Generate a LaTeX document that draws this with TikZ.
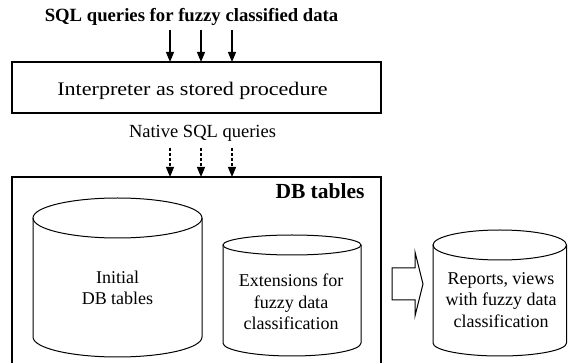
\documentclass[tikz,border=0pt]{standalone}
\usepackage{fontspec}
\setmainfont{Liberation Serif}
\newfontfamily\widefont[FakeStretch=1.15]{Liberation Serif}
\usetikzlibrary{arrows.meta}
\tikzset{
  every path/.style={line width=1pt},
  flowarr/.style={-{Triangle[length=10pt,width=8pt]}, line width=1.2pt},
  dasharr/.style={flowarr, dash pattern=on 3pt off 2pt},
  cyltext/.style={align=center, font=\fontsize{18}{21.5}\selectfont, inner sep=0pt},
  boxline/.style={line width=1.2pt},
}
\begin{document}
\begin{tikzpicture}[x=1pt,y=-1pt]
\useasboundingbox (0,0) rectangle (568,363);

% title
\node[font=\fontsize{18.7}{22}\selectfont\bfseries, inner sep=0pt] (title) at (191.5,17) {SQL queries for fuzzy classified data};

% interpreter box
\node[draw, boxline, minimum width=369pt, minimum height=51pt, inner sep=0pt] (interp) at (196.5,87.5) {};
\node[font=\widefont\fontsize{19.2}{22}\selectfont, inner sep=0pt] (interptext) at (192.5,91) {Interpreter as stored procedure};

% solid arrows
\foreach \i/\x in {1/170,2/201,3/232}{
  \coordinate (s\i) at (\x,30);
  \coordinate (e\i) at (\x,62);
  \draw[flowarr] (s\i) -- (e\i);
}

% native SQL
\node[font=\fontsize{18.5}{22}\selectfont, inner sep=0pt] (native) at (202.5,133) {Native SQL queries};

\foreach \i/\x in {1/170,2/201,3/232}{
  \coordinate (ds\i) at (\x,148);
  \coordinate (de\i) at (\x,177);
  \draw[dasharr] (ds\i) -- (de\i);
}

% DB tables box (open at bottom)
\coordinate (dbtl) at (12,177);
\coordinate (dbtr) at (381,177);
\draw[boxline] (12,363) -- (dbtl) -- (dbtr) -- (381,363);
\node[font=\fontsize{21.5}{24}\selectfont\bfseries, inner sep=0pt, anchor=east] (dbtitle) at (365,191.5) {DB tables};

% cylinder 1
\draw (33,218) -- (33,337) arc[start angle=180,end angle=360,x radius=84.5pt,y radius=20pt] -- (202,218);
\draw (117.5,218) ellipse [x radius=84.5pt, y radius=20pt];
\node[cyltext] (initial) at (117.5,288) {Initial\\ DB tables};

% cylinder 2
\draw (223,245) -- (223,343) arc[start angle=180,end angle=360,x radius=69pt,y radius=13pt] -- (361,245);
\draw (292,245) ellipse [x radius=69pt, y radius=10pt];
\node[cyltext] (ext) at (291,302) {Extensions for\\ fuzzy data\\ classification};

% hollow arrow
\draw[line width=1pt] (392,268) -- (415,268) -- (415,252) -- (423,284) -- (415,316) -- (415,300) -- (392,300) -- cycle;

% cylinder 3
\draw (433,245) -- (433,343) arc[start angle=180,end angle=360,x radius=66.75pt,y radius=13pt] -- (566.5,245);
\draw (499.75,245) ellipse [x radius=66.75pt, y radius=15pt];
\node[cyltext] (reports) at (501,300) {Reports, views\\ with fuzzy data\\ classification};
\end{tikzpicture}
\end{document}
